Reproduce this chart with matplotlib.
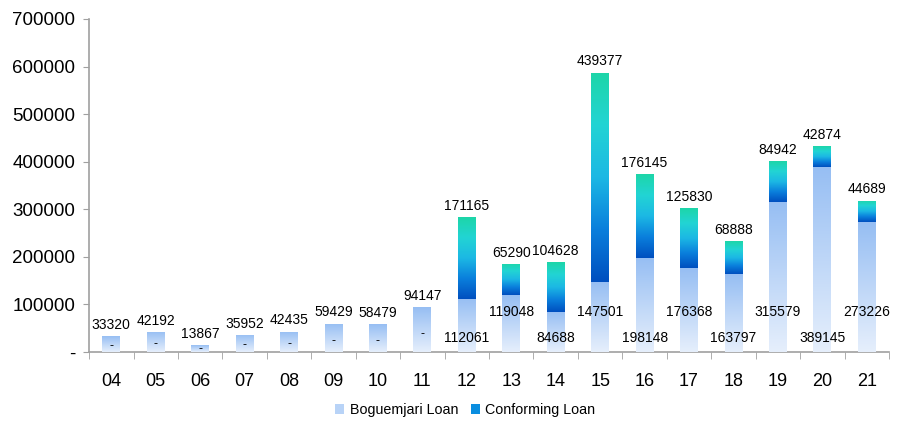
import numpy as np
import matplotlib
matplotlib.use("Agg")
import matplotlib.pyplot as plt
from matplotlib.colors import LinearSegmentedColormap
from matplotlib.patches import Patch

plt.rcParams['font.family'] = ['Liberation Sans', 'DejaVu Sans']

years = ["04", "05", "06", "07", "08", "09", "10", "11", "12",
         "13", "14", "15", "16", "17", "18", "19", "20", "21"]
boguemjari = [33320, 42192, 13867, 35952, 42435, 59429, 58479, 94147, 112061,
              119048, 84688, 147501, 198148, 176368, 163797, 315579, 389145, 273226]
conforming = [0, 0, 0, 0, 0, 0, 0, 0, 171165,
              65290, 104628, 439377, 176145, 125830, 68888, 84942, 42874, 44689]

fig = plt.figure(figsize=(9.09, 4.21), dpi=100)
ax = fig.add_axes([0.098, 0.164, 0.88, 0.791])

x = np.arange(len(years))
width = 0.4

cm_bog = LinearSegmentedColormap.from_list("bog", ["#e6effc", "#96bef3"])
cm_con = LinearSegmentedColormap.from_list(
    "con", ["#004fbf", "#0a7fdc", "#1cb8e4", "#22d4d4", "#1dd6a8"])

b1 = ax.bar(x, boguemjari, width, color="#b8d3f7", zorder=2)
b2 = ax.bar(x, conforming, width, bottom=boguemjari, color="#1a9ee0", zorder=2)

# gradient fill clipped to each bar
grad = np.linspace(0, 1, 256).reshape(-1, 1)
for bars, cmap in [(b1, cm_bog), (b2, cm_con)]:
    for p in bars:
        h = p.get_height()
        if h <= 0:
            continue
        x0, y0 = p.get_x(), p.get_y()
        im = ax.imshow(grad, extent=[x0, x0 + p.get_width(), y0, y0 + h],
                       origin="lower", aspect="auto", cmap=cmap, zorder=3)
        im.set_clip_path(p)
        p.set_facecolor("none")

ax.set_xlim(-0.5, len(years) - 0.5)
ax.set_ylim(0, 700000)

# value labels
for i, (b, c) in enumerate(zip(boguemjari, conforming)):
    total = b + c
    if c == 0:
        ax.text(i, b + 9000, str(b), ha="center", va="bottom", fontsize=10, zorder=5)
        ax.text(i, b * 0.4, "-", ha="center", va="center", fontsize=9, zorder=5)
    else:
        ypos = 30000 if i % 2 == 0 else 85000
        ax.text(i, ypos, str(b), ha="center", va="center", fontsize=10, zorder=5)
        ax.text(i, total + 9000, str(c), ha="center", va="bottom", fontsize=10, zorder=5)

yt = np.arange(0, 700001, 100000)
ax.set_yticks(yt)
ax.set_yticklabels(["-"] + [str(v) for v in yt[1:]], fontsize=13.5)
ax.set_xticks(x)
ax.set_xticklabels(years, fontsize=13)
ax.set_xticks(np.arange(-0.5, len(years)), minor=True)
ax.tick_params(axis="x", which="major", length=0, pad=15)
ax.tick_params(axis="x", which="minor", length=5, color="#a0a0a0", direction="out")
ax.tick_params(axis="y", length=4, color="#a0a0a0", pad=6)

for s in ["top", "right"]:
    ax.spines[s].set_visible(False)
for s in ["left", "bottom"]:
    ax.spines[s].set_color("#a0a0a0")
    ax.spines[s].set_linewidth(1.2)

handles = [Patch(facecolor="#b8d3f7", label="Boguemjari Loan"),
           Patch(facecolor="#0a8ee0", label="Conforming Loan")]
fig.legend(handles=handles, loc="center", bbox_to_anchor=(0.512, 0.026), ncol=2,
           frameon=False, fontsize=10.3, handlelength=0.6, handleheight=0.6,
           handletextpad=0.4, columnspacing=0.9)

fig.savefig("out.png", dpi=100)
